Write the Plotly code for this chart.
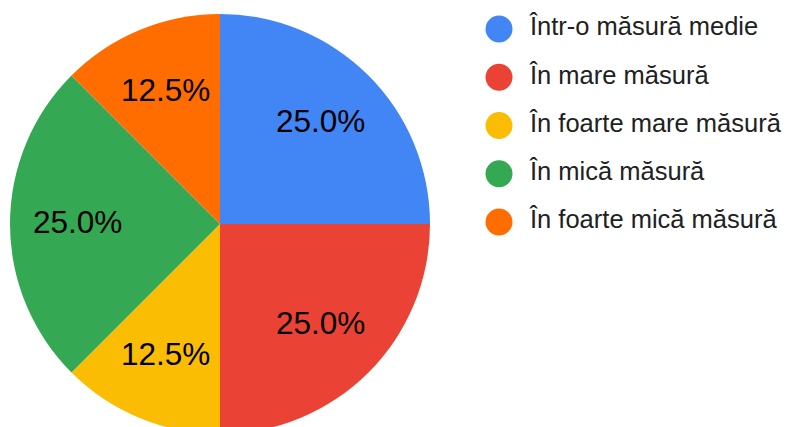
import math
import plotly.graph_objects as go

labels = ["Într-o măsură medie", "În mare măsură", "În foarte mare măsură",
          "În mică măsură", "În foarte mică măsură"]
counts = [2, 2, 1, 2, 1]
colors = ["#4285F4", "#EA4335", "#FBBC04", "#34A853", "#FF6D01"]

FONT = "Liberation Sans, Arial, sans-serif"
W, H = 790, 426          # page body adds an 8px offset
TOP = 6
R = 210                  # pie radius in px (plot height 420 -> r=210)
CX = 212                 # pie centre x in figure px
LABEL_FRAC = 0.68

total = sum(counts)
pcts = ["{:.1f}%".format(c / total * 100) for c in counts]

# slice label positions along each slice bisector (clockwise from 12 o'clock)
lx, ly = [], []
cum = 0
for c in counts:
    mid = (cum + c / 2) / total * 2 * math.pi
    lx.append(LABEL_FRAC * R * math.sin(mid))
    ly.append(LABEL_FRAC * R * math.cos(mid) + 2)
    cum += c

fig = go.Figure()
fig.add_trace(go.Pie(
    labels=labels, values=counts, sort=False, direction="clockwise", rotation=0,
    marker=dict(colors=colors, line=dict(width=0)),
    textinfo="none",
    domain=dict(x=[0, 2 * CX / W], y=[0, 1]),
    showlegend=False, hoverinfo="label+percent",
))

# custom legend with large circle markers
fig.add_trace(go.Scatter(
    x=[0] * len(labels), y=labels, mode="markers",
    marker=dict(size=27, color=colors, symbol="circle", line=dict(width=0)),
    showlegend=False, hoverinfo="skip", cliponaxis=False,
))
fig.add_trace(go.Scatter(
    x=[31] * len(labels), y=labels, mode="text", text=labels,
    textposition="middle right",
    textfont=dict(family=FONT, size=25.5, color="#212121"),
    showlegend=False, hoverinfo="skip", cliponaxis=False,
))

# percentage labels on the slices (annotations sit above the pie layer)
for x, y, t in zip(lx, ly, pcts):
    fig.add_annotation(x=x, y=y, xref="x2", yref="y2", text=t, showarrow=False,
                       xanchor="center", yanchor="middle",
                       font=dict(family=FONT, size=31.5, color="#000000"))

ROW0, ROWSTEP = 21, 48.25
plot_h = H - TOP
top_idx = -(ROW0 - TOP) / ROWSTEP
bot_idx = top_idx + plot_h / ROWSTEP
LEG_X = 491
fig.update_layout(
    width=W, height=H,
    margin=dict(l=0, r=0, t=TOP, b=0),
    paper_bgcolor="white", plot_bgcolor="rgba(0,0,0,0)",
    xaxis=dict(visible=False, range=[-LEG_X, W - LEG_X], fixedrange=True, domain=[0, 1]),
    yaxis=dict(visible=False, type="category", categoryorder="array",
               categoryarray=labels, range=[bot_idx, top_idx], fixedrange=True),
    xaxis2=dict(visible=False, range=[-CX, W - CX], fixedrange=True, domain=[0, 1],
                anchor="y2", overlaying="x"),
    yaxis2=dict(visible=False, range=[-plot_h / 2, plot_h / 2], fixedrange=True,
                anchor="x2", overlaying="y"),
    font=dict(family=FONT),
)
fig.write_html("out.html")
